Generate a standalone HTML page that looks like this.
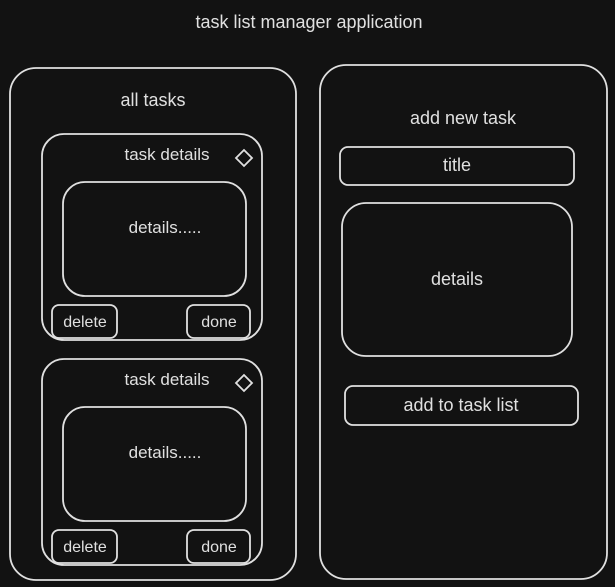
<!DOCTYPE html>
<html><head><style>
html,body{margin:0;padding:0;background:#121212;}
svg{display:block}
text{font-family:"Liberation Sans",sans-serif;fill:#e0e0e0;font-size:18px;text-anchor:middle}
rect{fill:none;stroke:#e0e0e0;stroke-width:1.8}
</style></head><body>
<svg width="615" height="587" viewBox="0 0 615 587">
<rect x="0" y="0" width="615" height="587" style="fill:#121212;stroke:none"/>
<text x="309" y="28">task list manager application</text>
<rect x="10" y="68" width="286" height="512" rx="26"/>
<text x="153" y="106">all tasks</text>
<rect x="42" y="134" width="220" height="206" rx="22"/>
<text x="167" y="160" style="font-size:17px">task details</text>
<path d="M244 150 L252 158 L244 166 L236 158 Z" fill="none" stroke="#e0e0e0" stroke-width="1.8"/>
<rect x="63" y="182" width="183" height="114" rx="22"/>
<text x="165" y="233" style="font-size:17px">details.....</text>
<rect x="52" y="305" width="65" height="33" rx="7"/>
<text x="85" y="327" style="font-size:16px">delete</text>
<rect x="187" y="305" width="63" height="33" rx="7"/>
<text x="219" y="327" style="font-size:16px">done</text>
<rect x="42" y="359" width="220" height="206" rx="22"/>
<text x="167" y="385" style="font-size:17px">task details</text>
<path d="M244 375 L252 383 L244 391 L236 383 Z" fill="none" stroke="#e0e0e0" stroke-width="1.8"/>
<rect x="63" y="407" width="183" height="114" rx="22"/>
<text x="165" y="458" style="font-size:17px">details.....</text>
<rect x="52" y="530" width="65" height="33" rx="7"/>
<text x="85" y="552" style="font-size:16px">delete</text>
<rect x="187" y="530" width="63" height="33" rx="7"/>
<text x="219" y="552" style="font-size:16px">done</text>
<rect x="320" y="65" width="287" height="514" rx="26"/>
<text x="463" y="124">add new task</text>
<rect x="340" y="147" width="234" height="38" rx="8"/>
<text x="457" y="171">title</text>
<rect x="342" y="203" width="230" height="153" rx="24"/>
<text x="457" y="285">details</text>
<rect x="345" y="386" width="233" height="39" rx="8"/>
<text x="461" y="411">add to task list</text>
</svg>
</body></html>
